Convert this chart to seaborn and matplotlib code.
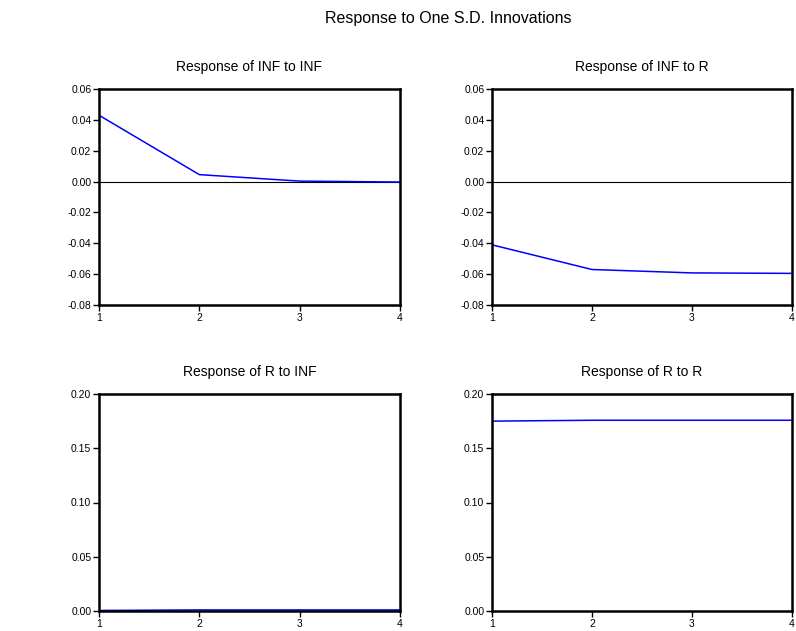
import matplotlib
matplotlib.use("Agg")
import matplotlib.pyplot as plt
import seaborn as sns
import pandas as pd
import numpy as np

periods = [1, 2, 3, 4]
inf_to_inf = [0.0430, 0.0045, 0.0003, -0.0003]
inf_to_r = [-0.0410, -0.0570, -0.0592, -0.0595]
r_to_inf = [0.0005, 0.0010, 0.0010, 0.0010]
r_to_r = [0.1750, 0.1758, 0.1758, 0.1758]

titles = ["Response of INF to INF", "Response of INF to R",
          "Response of R to INF", "Response of R to R"]
series = [inf_to_inf, inf_to_r, r_to_inf, r_to_r]
top_ticks = [0.06, 0.04, 0.02, 0.00, -0.02, -0.04, -0.06, -0.08]
bottom_ticks = [0.20, 0.15, 0.10, 0.05, 0.00]

sns.set_theme(style="white")
plt.rcParams['font.family'] = ['Liberation Sans', 'DejaVu Sans']

fig = plt.figure(figsize=(7.96, 6.31), dpi=100)
W, H = 796, 631
boxes = [(99, 89, 400, 305), (492, 89, 792, 305),
         (99, 394, 400, 611), (492, 394, 792, 611)]

for i, (box, title, vals) in enumerate(zip(boxes, titles, series)):
    x0, y0, x1, y1 = box
    ax = fig.add_axes([x0 / W, 1 - y1 / H, (x1 - x0) / W, (y1 - y0) / H])
    df = pd.DataFrame({"period": periods, "value": vals})
    if i < 2:
        ax.axhline(0, color="black", lw=0.8, zorder=1)
        ax.set_ylim(-0.08, 0.06)
        ax.set_yticks(top_ticks)
        ax.set_yticklabels([f"{t:.2f}" for t in top_ticks])
    else:
        ax.set_ylim(0.0, 0.20)
        ax.set_yticks(bottom_ticks)
        ax.set_yticklabels([f"{t:.2f}" for t in bottom_ticks])
    sns.lineplot(data=df, x="period", y="value", ax=ax, color="#0000ff", lw=1.1, zorder=2)
    ax.set_xlim(1, 4)
    ax.set_xticks(periods)
    ax.set_xticklabels([str(p) for p in periods])
    ax.set_xlabel("")
    ax.set_ylabel("")
    for s in ax.spines.values():
        s.set_color("black")
        s.set_linewidth(1.8)
    ax.tick_params(axis="both", which="both", direction="out", length=4, width=1,
                   colors="black", labelsize=7.5, pad=1.5, left=True, bottom=True)
    ax.set_title(title, fontsize=10, pad=13, color="black")
    ax.grid(False)

fig.text(448 / W, 1 - 18 / H, "Response to One S.D. Innovations",
         ha="center", va="center", fontsize=11.5, color="black")

fig.savefig("out.png", dpi=100, facecolor="white")
